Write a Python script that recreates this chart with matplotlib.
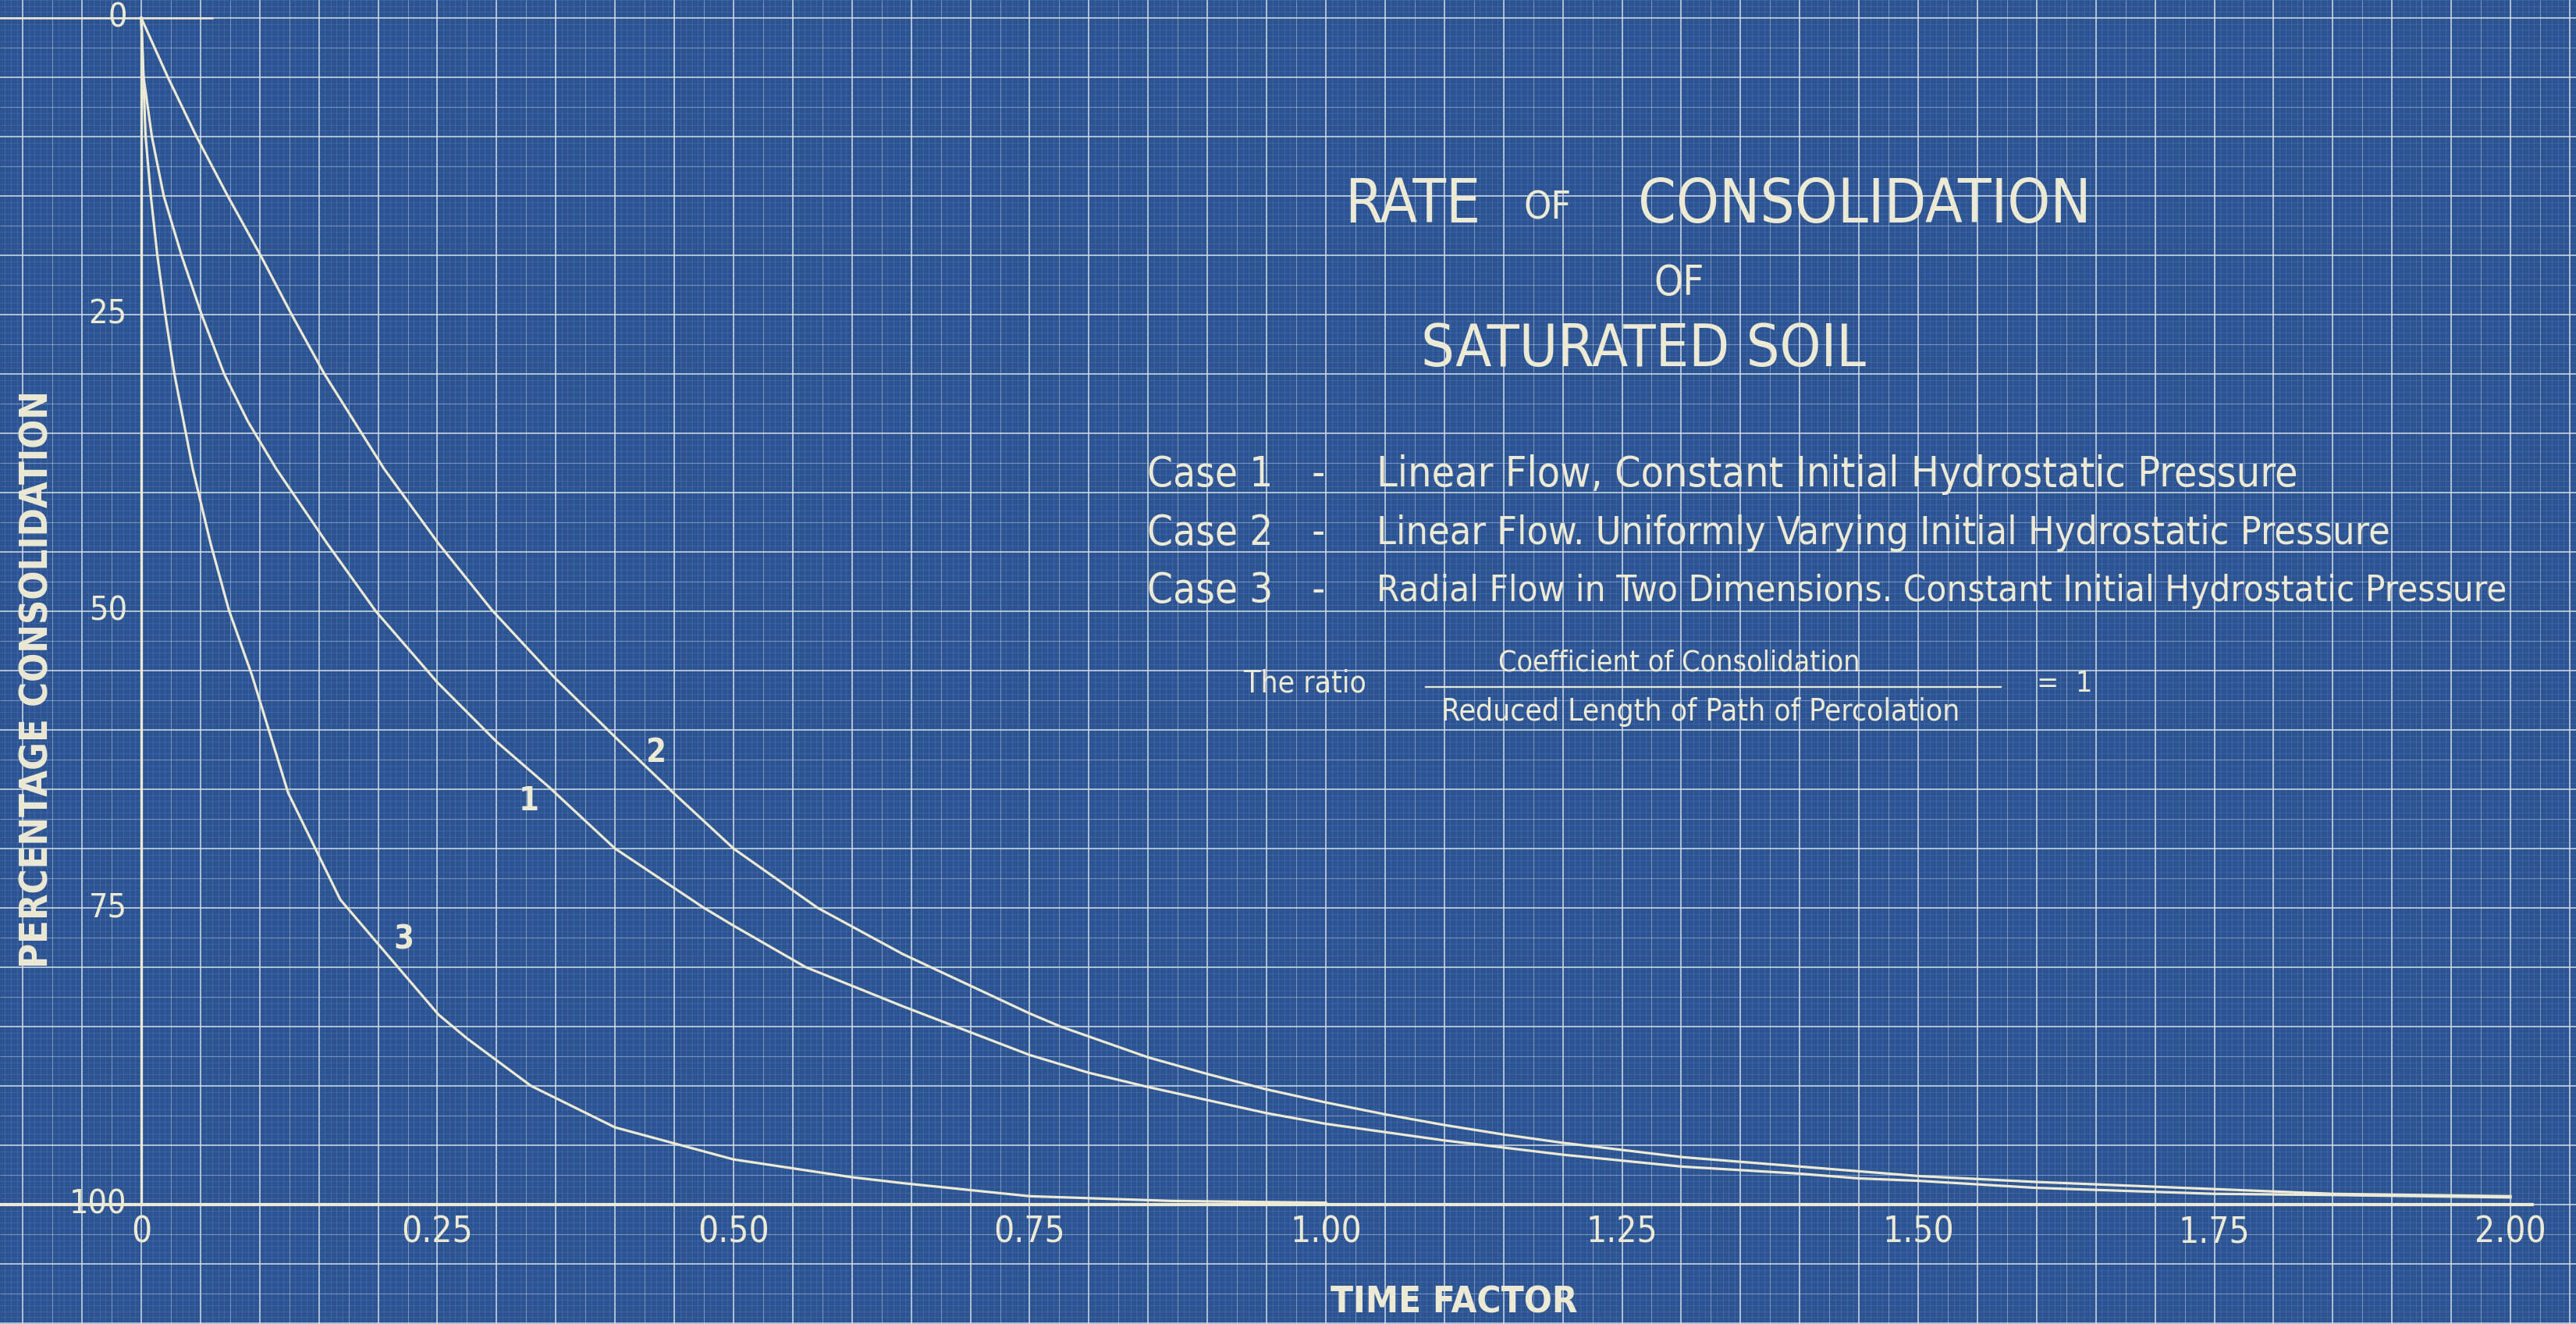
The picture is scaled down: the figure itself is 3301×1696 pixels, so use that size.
import numpy as np
import matplotlib
matplotlib.use("Agg")
import matplotlib.pyplot as plt

# time factor / percentage consolidation
t_case1 = [0, 0.002, 0.009, 0.019, 0.034, 0.051, 0.070, 0.090, 0.114, 0.157, 0.198, 0.25,
           0.30, 0.344, 0.40, 0.475, 0.50, 0.561, 0.643, 0.75, 0.80, 0.85, 0.90, 0.95, 1.00,
           1.05, 1.10, 1.15, 1.20, 1.25, 1.30, 1.35, 1.40, 1.45, 1.50, 1.60, 1.75, 1.85, 2.00]
u_case1 = [0, 5, 10, 15, 20, 25, 30, 34, 38, 44.3, 50, 56,
           61, 64.8, 70, 75, 76.5, 80, 83.3, 87.4, 88.9, 90.1, 91.2, 92.3, 93.2,
           93.9, 94.6, 95.2, 95.8, 96.3, 96.8, 97.1, 97.4, 97.8, 98.0, 98.6, 99.1, 99.2, 99.4]

t_case2 = [0, 0.0225, 0.0467, 0.073, 0.1007, 0.127, 0.1546, 0.205, 0.251, 0.296, 0.349,
           0.40, 0.447, 0.50, 0.571, 0.643, 0.75, 0.776, 0.85, 0.90, 0.95, 1.00, 1.05, 1.10,
           1.15, 1.20, 1.25, 1.30, 1.35, 1.40, 1.45, 1.50, 1.60, 1.75, 1.85, 2.00]
u_case2 = [0, 5, 10, 15, 20, 25, 30, 38, 44.3, 49.9, 55.6,
           60.6, 65.1, 70, 75, 78.9, 83.9, 85, 87.6, 89.0, 90.3, 91.4, 92.4, 93.3,
           94.1, 94.8, 95.4, 96.0, 96.4, 96.8, 97.2, 97.6, 98.1, 98.7, 99.1, 99.3]

t_case3 = [0, 0.0018, 0.0037, 0.0081, 0.0136, 0.0203, 0.028, 0.0435, 0.0586, 0.074, 0.0935,
           0.124, 0.168, 0.215, 0.251, 0.275, 0.329, 0.40, 0.50, 0.60, 0.643, 0.75, 0.87, 1.00]
u_case3 = [0, 5, 10, 15, 20, 25, 30, 38, 44.3, 49.9, 55.4,
           65.3, 74.3, 79.8, 84, 86.0, 90, 93.5, 96.2, 97.7, 98.2, 99.3, 99.7, 99.85]

x_ticks = [0, 0.25, 0.50, 0.75, 1.00, 1.25, 1.50, 1.75, 2.00]
x_tick_labels = ["0", "0.25", "0.50", "0.75", "1.00", "1.25", "1.50", "1.75", "2.00"]
y_ticks = [0, 25, 50, 75, 100]

case_lines = [
    ("Case 1", "Linear Flow, Constant Initial Hydrostatic Pressure"),
    ("Case 2", "Linear Flow. Uniformly Varying Initial Hydrostatic Pressure"),
    ("Case 3", "Radial Flow in Two Dimensions. Constant Initial Hydrostatic Pressure"),
]
case_sizes = [38.5, 36, 34]

BG = "#2c5392"
INK = "#ece9d4"
FONT = ["DejaVu Sans"]
STRETCH = "condensed"

fig = plt.figure(figsize=(33.01, 16.96), dpi=100)
fig.patch.set_facecolor(BG)
ax = fig.add_axes([0, 0, 1, 1])
ax.set_facecolor(BG)
ax.set_xlim(-0.1192, 2.0553)
ax.set_ylim(110.07, -1.51)
for s in ax.spines.values():
    s.set_visible(False)
ax.set_xticks([])
ax.set_yticks([])


def label(x, y, s, size, **kw):
    kw.setdefault("ha", "center")
    kw.setdefault("va", "center")
    return ax.text(x, y, s, color=INK, fontsize=size, family=FONT,
                   fontstretch=STRETCH, zorder=5, **kw)


# graph paper: 1 mm fine mesh, 5 mm and 1 cm lines
kx = np.arange(-24, 412)
ky = np.arange(-4, 222)
for k_arr, step, vertical in [(kx, 0.005, True), (ky, 0.5, False)]:
    for sel, col, lw, alpha in [
        ((k_arr % 5 != 0), "#7e9ccb", 0.45, 0.35),
        ((k_arr % 5 == 0) & (k_arr % 10 != 0), "#a9bedc", 0.8, 0.6),
        ((k_arr % 10 == 0), "#d4dfea", 1.3, 0.85),
    ]:
        pos = k_arr[sel] * step
        if vertical:
            ax.vlines(pos, 0, 1, transform=ax.get_xaxis_transform(), colors=col,
                      linewidths=lw, alpha=alpha, zorder=1)
        else:
            ax.hlines(pos, 0, 1, transform=ax.get_yaxis_transform(), colors=col,
                      linewidths=lw, alpha=alpha, zorder=1)

# axes drawn in ink
ax.plot([-0.125, 2.02], [100, 100], color=INK, lw=3.0, zorder=3, solid_capstyle="butt")
ax.plot([0, 0], [0, 100], color=INK, lw=2.4, zorder=3)
ax.plot([-0.125, 0.06], [0, 0], color=INK, lw=1.8, zorder=3)

for t, u in [(t_case1, u_case1), (t_case2, u_case2), (t_case3, u_case3)]:
    ax.plot(t, u, color=INK, lw=2.3, zorder=4, solid_joinstyle="round")

label(0.327, 66.0, "1", 30, weight="bold")
label(0.435, 61.9, "2", 30, weight="bold")
label(0.222, 77.7, "3", 30, weight="bold")

# tick labels
for xv, lab in zip(x_ticks, x_tick_labels):
    label(xv, 102.4, lab, 33)
for yv in y_ticks:
    label(-0.012, yv, str(yv), 31, ha="right")

label(1.108, 108.3, "TIME FACTOR", 34, weight="bold")
label(-0.088, 55.7, "PERCENTAGE CONSOLIDATION", 35, weight="bold", rotation=90)

# title block
label(1.073, 15.8, "RATE", 56)
label(1.187, 16.0, "OF", 36)
label(1.455, 15.8, "CONSOLIDATION", 56)
label(1.298, 22.4, "OF", 38)
label(1.268, 28.0, "SATURATED SOIL", 54)

for i, ((case, desc), size) in enumerate(zip(case_lines, case_sizes)):
    yv = 38.5 + i * 4.9
    label(0.849, yv, case, 38, ha="left")
    label(0.988, yv, "-", 38, ha="left")
    label(1.043, yv, desc, size, ha="left")

label(0.931, 56.1, "The ratio", 28, ha="left")
label(1.298, 54.4, "Coefficient of Consolidation", 27)
ax.plot([1.084, 1.570], [56.4, 56.4], color=INK, lw=1.6, zorder=5)
label(1.316, 58.5, "Reduced Length of Path of Percolation", 28)
label(1.600, 56.1, "=  1", 27, ha="left")

fig.savefig("out.png", dpi=100, facecolor=BG)
